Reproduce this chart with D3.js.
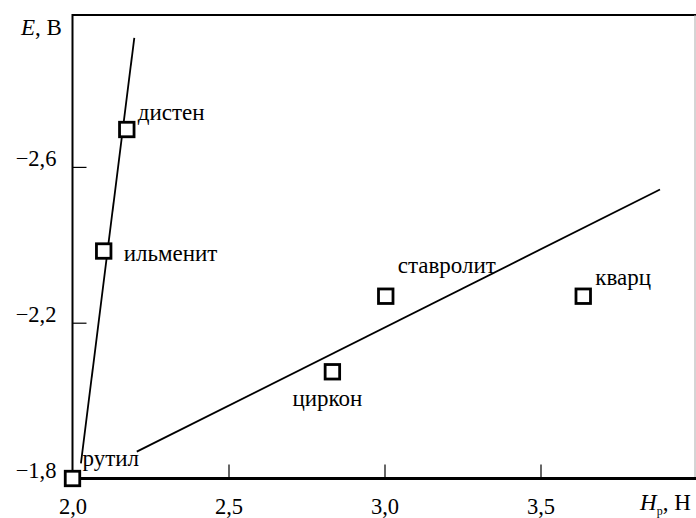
<!DOCTYPE html>
<html>
<head>
<meta charset="utf-8">
<script src="https://cdn.jsdelivr.net/npm/d3@7"></script>
</head>
<body style="margin:0">
<svg id="s" width="696" height="518" style="display:block"></svg>
<script>
// Minerals: hardness H_p (x) and potential E, V (y)
const minerals = ["рутил", "ильменит", "дистен", "циркон", "ставролит", "кварц"];
const hardness = [2.0, 2.10, 2.174, 2.833, 3.004, 3.637];
const potential = [-1.8, -2.384, -2.696, -2.074, -2.268, -2.268];

// Label offsets (dx, dy) from each marker, in px
const labelDx = [10, 20, 11, -40, 12, 12];
const labelDy = [-13, 10, -10, 34, -23, -11];

// Two fitted trend lines, endpoints in data units
const steepLine = { x: [2.027, 2.198], y: [-1.839, -2.931] };
const flatLine = { x: [2.206, 3.883], y: [-1.869, -2.542] };

// Axis ticks
const xTicks = [2.0, 2.5, 3.0, 3.5];
const xTickLabels = ["2,0", "2,5", "3,0", "3,5"];
const yTicks = [-1.8, -2.2, -2.6];
const yTickLabels = ["\u22121,8", "\u22122,2", "\u22122,6"];

const SERIF = "\"Liberation Serif\", cursive";

const svg = d3.select("#s");
const mLeft = 72.5, mRight = 696.5, mTop = 15, mBottom = 478.5;

const x = d3.scaleLinear().domain([2.0, 4.0]).range([mLeft, mRight]);
const y = d3.scaleLinear().domain([-1.8, -2.99]).range([mBottom, mTop]);

function serif(sel, size) {
  return sel.style("font-family", SERIF).attr("font-size", size);
}

// Frame: top and right
svg.append("line").attr("x1", mLeft).attr("x2", 696).attr("y1", mTop).attr("y2", mTop)
  .attr("stroke", "#000").attr("stroke-width", 2);
svg.append("line").attr("x1", 695).attr("x2", 695).attr("y1", mTop).attr("y2", mBottom)
  .attr("stroke", "#aaa").attr("stroke-width", 1);

// Axes with inward ticks
const xAxis = d3.axisBottom(x).tickValues(xTicks).tickSize(-14)
  .tickFormat((d, i) => xTickLabels[i]).tickPadding(20);
const gx = svg.append("g").attr("transform", `translate(0,${mBottom})`).call(xAxis);
gx.attr("font-family", null);
gx.select(".domain").remove();
gx.selectAll(".tick line").attr("stroke", "#000").attr("stroke-width", 1.2);
serif(gx.selectAll(".tick text"), 22.5).attr("fill", "#000");
gx.selectAll(".tick").filter(d => d === 2.0).select("line").remove();

const yAxis = d3.axisLeft(y).tickValues(yTicks).tickSize(-14)
  .tickFormat((d, i) => yTickLabels[i]).tickPadding(16);
const gy = svg.append("g").attr("transform", `translate(${mLeft},0)`).call(yAxis);
gy.attr("font-family", null);
gy.select(".domain").remove();
gy.selectAll(".tick line").attr("stroke", "#000").attr("stroke-width", 1.2);
serif(gy.selectAll(".tick text"), 22.5).attr("fill", "#000").attr("dy", "-0.05em");
gy.selectAll(".tick").filter(d => d === -1.8).select("line").remove();

// Axis lines
svg.append("line").attr("x1", mLeft).attr("x2", mLeft).attr("y1", mTop - 1).attr("y2", mBottom)
  .attr("stroke", "#000").attr("stroke-width", 2);
svg.append("line").attr("x1", mLeft).attr("x2", 696).attr("y1", mBottom).attr("y2", mBottom)
  .attr("stroke", "#000").attr("stroke-width", 3);

// Trend lines
const line = d3.line().x(d => x(d[0])).y(d => y(d[1]));
[steepLine, flatLine].forEach(l => {
  svg.append("path").datum(d3.zip(l.x, l.y)).attr("d", line)
    .attr("fill", "none").attr("stroke", "#000").attr("stroke-width", 1.8);
});

// Markers
const side = 14.5;
svg.append("g").selectAll("rect").data(minerals).join("rect")
  .attr("x", (d, i) => x(hardness[i]) - side / 2)
  .attr("y", (d, i) => y(potential[i]) - side / 2)
  .attr("width", side).attr("height", side)
  .attr("fill", "#fff").attr("stroke", "#000").attr("stroke-width", 2.8);

// Mineral labels
serif(svg.append("g").selectAll("text").data(minerals).join("text")
  .attr("x", (d, i) => x(hardness[i]) + labelDx[i])
  .attr("y", (d, i) => y(potential[i]) + labelDy[i]), 23)
  .text(d => d);

// Axis titles
const ey = serif(svg.append("text").attr("x", 21).attr("y", 35), 23);
ey.append("tspan").attr("font-style", "italic").text("E");
ey.append("tspan").text(", В");

const hx = serif(svg.append("text").attr("x", 640).attr("y", 510), 23);
hx.append("tspan").attr("font-style", "italic").text("H");
hx.append("tspan").attr("font-size", 12).attr("dy", 5).text("р");
hx.append("tspan").attr("dy", -5).text(", Н");
</script>
</body>
</html>
